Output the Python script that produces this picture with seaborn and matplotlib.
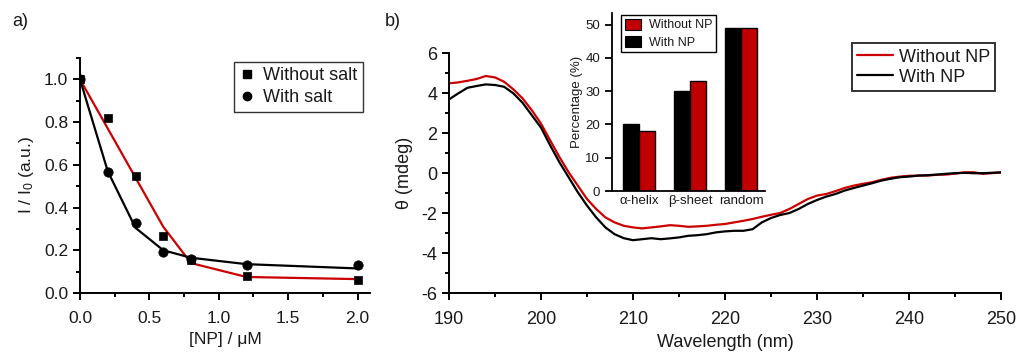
import numpy as np
import pandas as pd
import matplotlib
matplotlib.use("Agg")
import matplotlib.pyplot as plt
from matplotlib.ticker import MultipleLocator
from matplotlib.patches import Patch
from matplotlib.lines import Line2D
import seaborn as sns

# ---------------- data ----------------
# Panel a: fluorescence quenching
np_conc = [0.0, 0.2, 0.4, 0.6, 0.8, 1.2, 2.0]
without_salt = [1.0, 0.82, 0.55, 0.265, 0.155, 0.08, 0.06]
with_salt = [1.0, 0.565, 0.33, 0.19, 0.16, 0.13, 0.13]
fit_without_salt = [1.0, 0.77, 0.54, 0.31, 0.14, 0.075, 0.065]
fit_with_salt = [1.0, 0.57, 0.305, 0.20, 0.165, 0.135, 0.115]

# Panel b: CD spectra
wavelength = list(range(190, 251))
cd_without_np = [4.48, 4.53, 4.61, 4.70, 4.85, 4.78, 4.56, 4.18, 3.73, 3.14,
                 2.47, 1.63, 0.80, 0.04, -0.63, -1.30, -1.80, -2.22, -2.47, -2.64,
                 -2.72, -2.77, -2.72, -2.67, -2.61, -2.64, -2.69, -2.67, -2.64, -2.59,
                 -2.55, -2.47, -2.39, -2.30, -2.19, -2.09, -2.00, -1.80, -1.55, -1.30,
                 -1.13, -1.05, -0.91, -0.75, -0.63, -0.54, -0.46, -0.34, -0.24, -0.18,
                 -0.14, -0.13, -0.13, -0.09, -0.08, -0.03, 0.03, 0.04, -0.04, -0.01,
                 0.03]
cd_with_np = [3.68, 3.98, 4.26, 4.35, 4.43, 4.40, 4.31, 3.98, 3.51, 2.89,
              2.27, 1.38, 0.54, -0.21, -0.96, -1.63, -2.22, -2.72, -3.06, -3.26,
              -3.36, -3.31, -3.26, -3.31, -3.27, -3.22, -3.14, -3.11, -3.06, -2.97,
              -2.92, -2.89, -2.89, -2.81, -2.47, -2.25, -2.10, -2.00, -1.80, -1.55,
              -1.35, -1.18, -1.05, -0.88, -0.75, -0.63, -0.51, -0.38, -0.29, -0.21,
              -0.18, -0.13, -0.11, -0.08, -0.04, -0.01, 0.01, -0.01, -0.01, 0.01,
              0.03]

# Inset: secondary structure
structures = ["α-helix", "β-sheet", "random"]
pct_with_np = [20, 30, 49]
pct_without_np = [18, 33, 49]

# ---------------- style ----------------
sns.set_style("ticks")
plt.rcParams['font.family'] = ['Liberation Sans', 'DejaVu Sans']
plt.rcParams['mathtext.fontset'] = 'custom'
plt.rcParams['mathtext.rm'] = 'Liberation Sans'
plt.rcParams['mathtext.it'] = 'Liberation Sans'
plt.rcParams['axes.unicode_minus'] = False
plt.rcParams['text.color'] = '#1a1a1a'
plt.rcParams['axes.labelcolor'] = '#1a1a1a'
plt.rcParams['xtick.color'] = '#1a1a1a'
plt.rcParams['ytick.color'] = '#1a1a1a'

RED = "#cc0000"
BLACK = "#000000"

fig = plt.figure(figsize=(10.16, 3.56), dpi=100)
W, H = 1016, 356

def axes_px(l, r, t, b):
    return fig.add_axes([l / W, (H - b) / H, (r - l) / W, (b - t) / H])

def style_axes(ax, lw=1.4, fs=12):
    for s in ["top", "right"]:
        ax.spines[s].set_visible(False)
    for s in ["left", "bottom"]:
        ax.spines[s].set_linewidth(lw)
        ax.spines[s].set_color(BLACK)
    ax.tick_params(which="major", direction="out", length=5, width=lw, labelsize=fs, colors=BLACK,
                   labelcolor='#1a1a1a')
    ax.tick_params(which="minor", direction="out", length=3, width=lw, colors=BLACK)

# ---------------- panel a ----------------
axa = axes_px(80, 370, 58, 293)
dfa = pd.DataFrame({"x": np_conc, "ws": without_salt, "s": with_salt,
                    "fws": fit_without_salt, "fs": fit_with_salt})
sns.lineplot(data=dfa, x="x", y="fws", color=RED, lw=1.6, ax=axa)
sns.lineplot(data=dfa, x="x", y="fs", color=BLACK, lw=1.6, ax=axa)
sns.scatterplot(data=dfa, x="x", y="ws", marker="s", color=BLACK, s=38, edgecolor=BLACK, ax=axa, zorder=3)
sns.scatterplot(data=dfa, x="x", y="s", marker="o", color=BLACK, s=45, edgecolor=BLACK, ax=axa, zorder=3)
axa.set_xlim(0, 2.09)
axa.set_ylim(0, 1.10)
axa.xaxis.set_major_locator(MultipleLocator(0.5))
axa.xaxis.set_minor_locator(MultipleLocator(0.25))
axa.yaxis.set_major_locator(MultipleLocator(0.2))
axa.yaxis.set_minor_locator(MultipleLocator(0.1))
axa.xaxis.set_major_formatter(plt.FuncFormatter(lambda v, p: f"{v:.1f}"))
axa.yaxis.set_major_formatter(plt.FuncFormatter(lambda v, p: f"{v:.1f}"))
style_axes(axa, fs=12.5)
axa.tick_params(axis="x", pad=8)
axa.set_xlabel("[NP] / μM", fontsize=12.5, labelpad=4)
axa.set_ylabel("I / I$_0$ (a.u.)", fontsize=12.5, labelpad=6)
hl = [Line2D([], [], ls="none", marker="s", color=BLACK, markersize=5.5),
      Line2D([], [], ls="none", marker="o", color=BLACK, markersize=6)]
lega = axa.legend(hl, ["Without salt", "With salt"], loc="upper right",
                  bbox_to_anchor=(0.975, 0.985), fontsize=13, frameon=True, fancybox=False,
                  handlelength=0.8, handletextpad=0.5, borderpad=0.3, labelspacing=0.3,
                  borderaxespad=0)
lega.get_frame().set_edgecolor(BLACK)
lega.get_frame().set_linewidth(1.0)
fig.text(12 / W, 1 - 22 / H, "a)", fontsize=13, va="center", ha="left")

# ---------------- panel b ----------------
axb = axes_px(449, 1001, 53, 293)
dfb = pd.DataFrame({"wl": wavelength, "wo": cd_without_np, "w": cd_with_np})
sns.lineplot(data=dfb, x="wl", y="wo", color=RED, lw=1.6, ax=axb)
sns.lineplot(data=dfb, x="wl", y="w", color=BLACK, lw=1.6, ax=axb)
axb.set_xlim(190, 250)
axb.set_ylim(-6, 6)
axb.xaxis.set_major_locator(MultipleLocator(10))
axb.xaxis.set_minor_locator(MultipleLocator(5))
axb.yaxis.set_major_locator(MultipleLocator(2))
axb.yaxis.set_minor_locator(MultipleLocator(1))
style_axes(axb, fs=13)
axb.tick_params(axis="x", pad=8)
axb.set_xlabel("Wavelength (nm)", fontsize=13, labelpad=4)
axb.set_ylabel("θ (mdeg)", fontsize=13, labelpad=6)
hb = [Line2D([], [], color=RED, lw=1.6), Line2D([], [], color=BLACK, lw=1.6)]
legb = axb.legend(hb, ["Without NP", "With NP"], loc="upper right",
                  bbox_to_anchor=(0.99, 1.04), fontsize=13, frameon=True, fancybox=False,
                  handlelength=2.0, handletextpad=0.3, borderpad=0.3, labelspacing=0.15,
                  borderaxespad=0)
legb.get_frame().set_edgecolor(BLACK)
legb.get_frame().set_linewidth(1.4)
fig.text(385 / W, 1 - 22 / H, "b)", fontsize=13, va="center", ha="left")

# ---------------- inset ----------------
axi = axes_px(612, 765, 13, 191)
dfi = pd.DataFrame({
    "structure": structures * 2,
    "pct": pct_with_np + pct_without_np,
    "sample": ["With NP"] * 3 + ["Without NP"] * 3,
})
sns.barplot(data=dfi, x="structure", y="pct", hue="sample",
            hue_order=["With NP", "Without NP"], palette=[BLACK, "#c00000"],
            width=0.64, edgecolor=BLACK, linewidth=1.0, saturation=1, ax=axi, legend=False)
axi.set_xlim(-0.53, 2.47)
axi.set_ylim(0, 53.5)
axi.yaxis.set_major_locator(MultipleLocator(10))
style_axes(axi, lw=1.3, fs=9.5)
axi.tick_params(axis="x", length=0, pad=3)
axi.set_xlabel("")
axi.set_ylabel("Percentage (%)", fontsize=9.5, labelpad=2)
hi = [Patch(facecolor="#c00000", edgecolor=BLACK, lw=0.8),
      Patch(facecolor=BLACK, edgecolor=BLACK, lw=0.8)]
legi = axi.legend(hi, ["Without NP", "With NP"], loc="upper left",
                  bbox_to_anchor=(0.059, 0.99), fontsize=9, frameon=True, fancybox=False,
                  handlelength=1.3, handleheight=1.0, handletextpad=0.6, borderpad=0.3,
                  labelspacing=0.35, borderaxespad=0)
legi.get_frame().set_edgecolor(BLACK)
legi.get_frame().set_linewidth(1.0)
legi.get_frame().set_alpha(1)

fig.savefig("out.png", dpi=100)
